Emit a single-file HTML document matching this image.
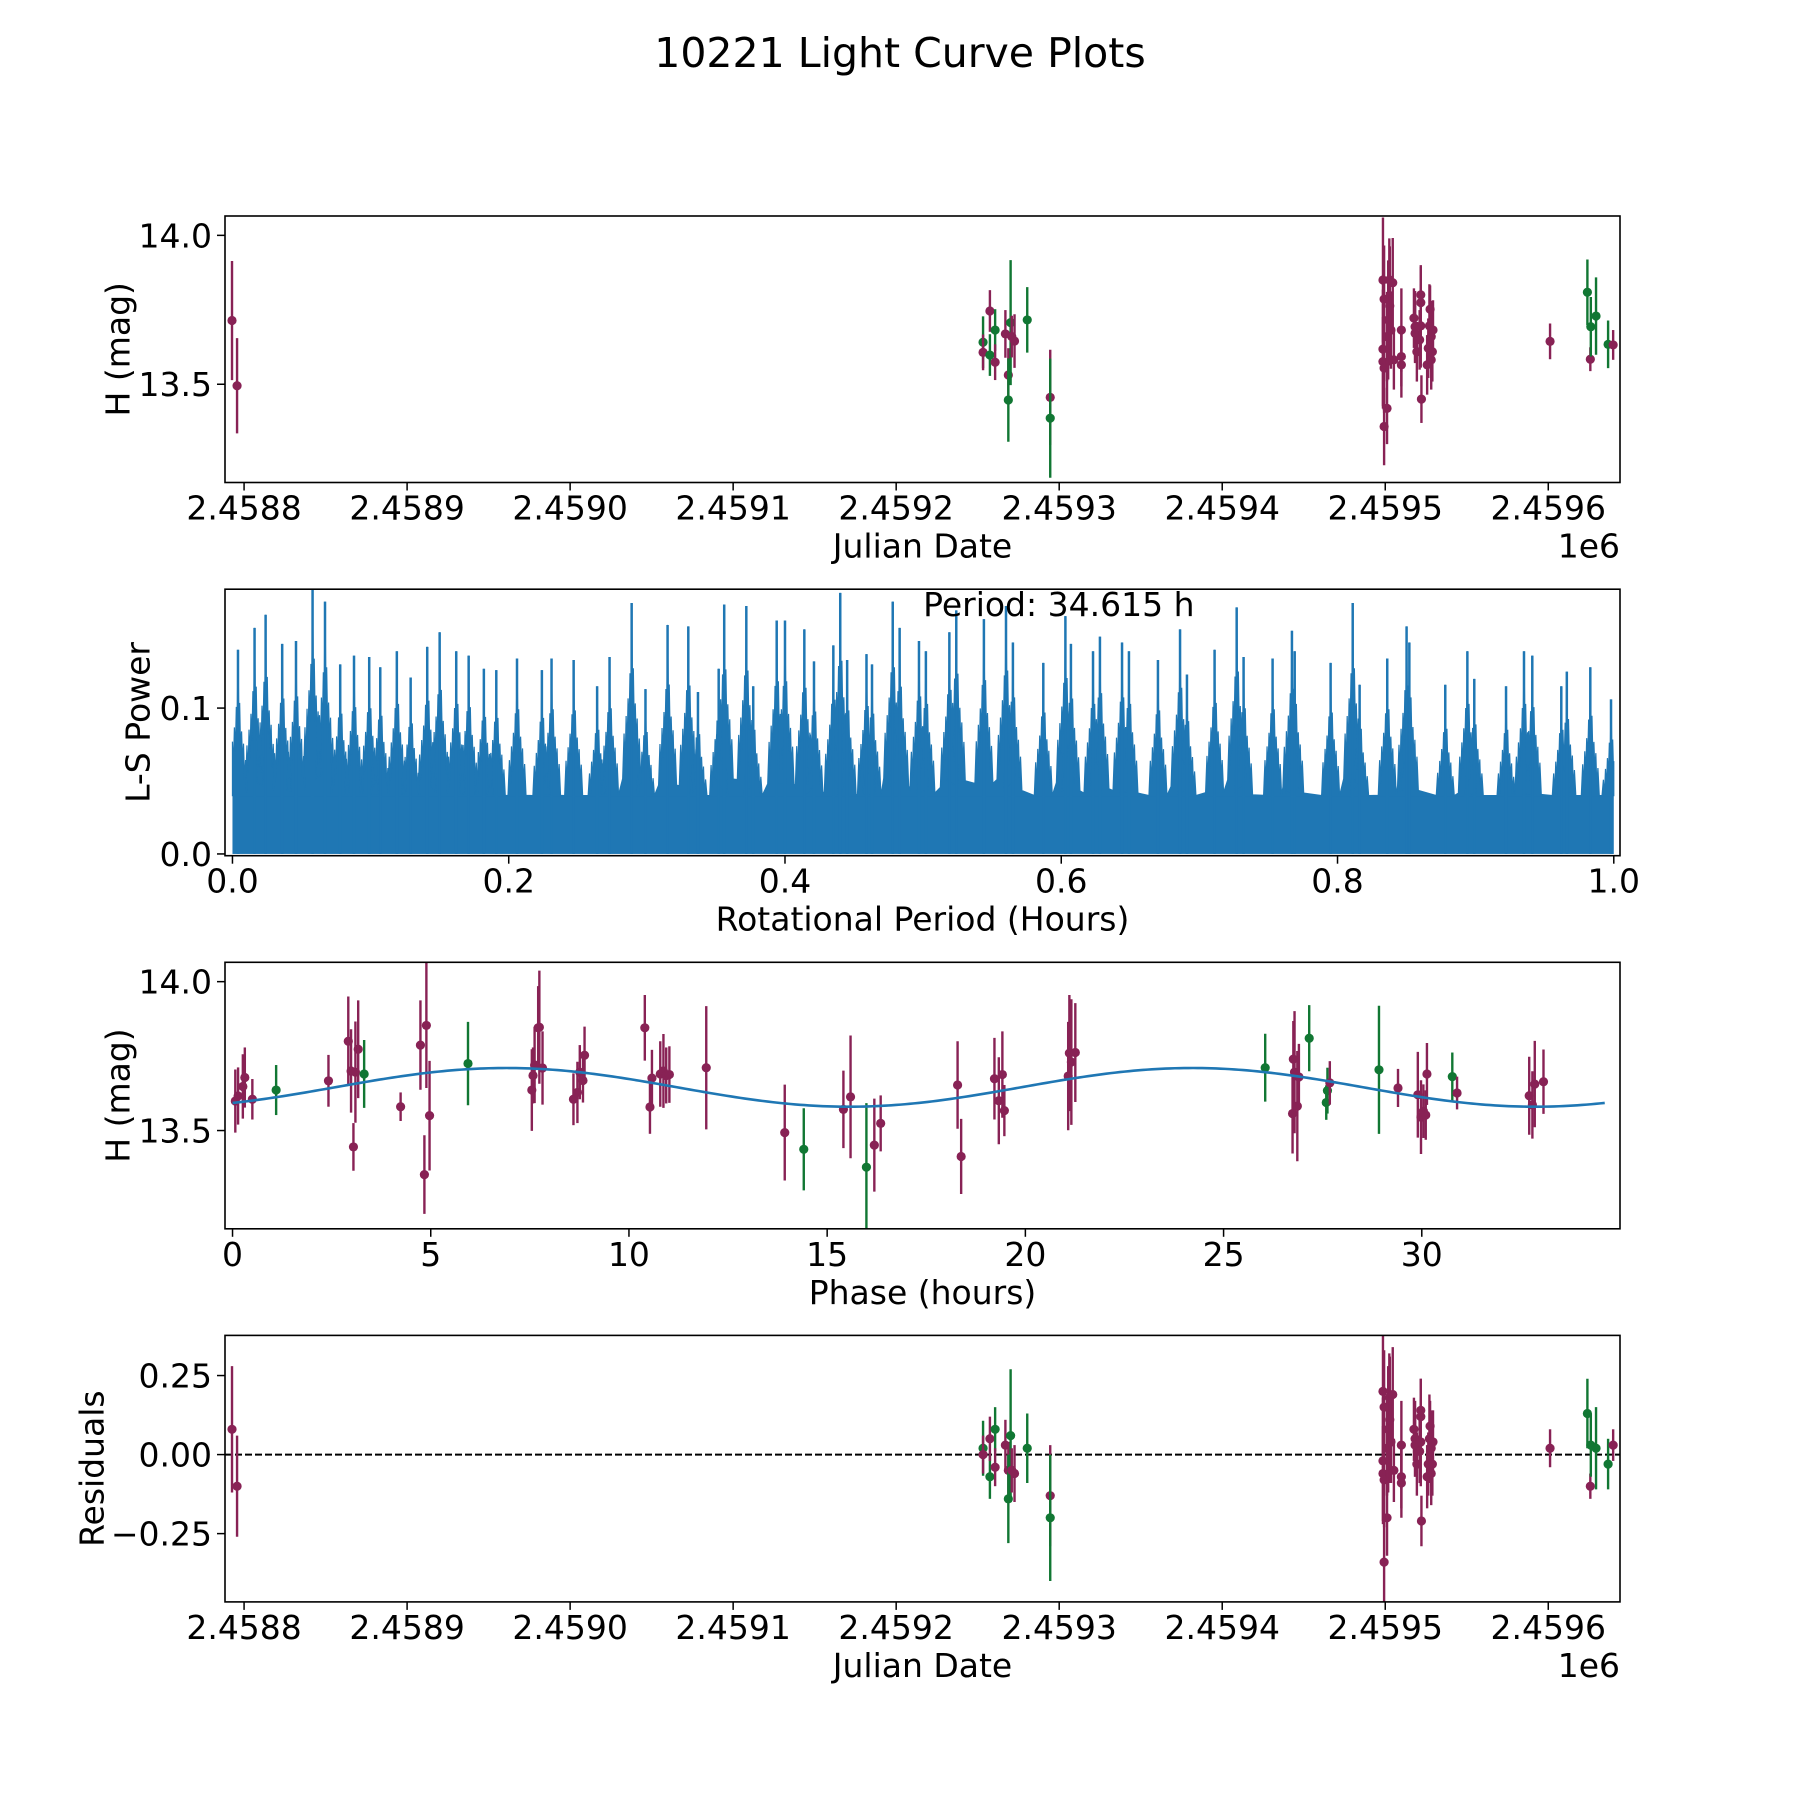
<!DOCTYPE html>
<html><head><meta charset="utf-8"><style>
html,body{margin:0;padding:0;background:#fff;}
svg{display:block;font-family:"DejaVu Sans","Liberation Sans",sans-serif;}
</style></head><body>
<svg id="fig" width="1800" height="1800" viewBox="0 0 1800 1800" xmlns="http://www.w3.org/2000/svg">
<rect width="1800" height="1800" fill="#fff"/>
<text x="900" y="67" font-size="41" text-anchor="middle">10221 Light Curve Plots</text>
</svg>
<script>
// ---------- data ----------
const lcJD = [2458792.6,2458795.7,2459253.3,2459253.3,2459257.5,2459257.5,2459260.7,2459260.7,2459267,2459268.8,2459268.8,2459270.2,2459270.9,2459272.6,2459280.4,2459294.5,2459294.5,
2459498.6,2459499.3,2459498.6,2459498.6,2459499.3,2459499.3,2459501.1,2459501.1,2459501.8,2459502.5,2459502.8,2459503.5,2459504.6,2459505.3,2459509.9,2459509.9,2459509.9,2459517.6,2459518.3,2459518.3,2459519.4,2459521.1,2459521.8,2459521.8,2459521.8,2459522.2,2459525.7,2459526.4,2459527.1,2459527.5,2459528.2,2459528.2,2459528.9,2459529.3,
2459601.1,2459624,2459625.8,2459626.1,2459629.3,2459636.7,2459639.8];
const lcMag = [13.714,13.495,13.641,13.607,13.598,13.746,13.682,13.574,13.669,13.531,13.447,13.707,13.660,13.645,13.716,13.456,13.386,
13.850,13.786,13.618,13.576,13.554,13.358,13.419,13.660,13.716,13.850,13.763,13.682,13.841,13.582,13.682,13.565,13.593,13.722,13.693,13.671,13.609,13.649,13.800,13.774,13.696,13.450,13.565,13.621,13.696,13.752,13.582,13.660,13.609,13.682,
13.644,13.809,13.584,13.693,13.729,13.634,13.632];
const lcErr = [0.20,0.16,0.087,0.06,0.07,0.07,0.07,0.06,0.08,0.09,0.14,0.21,0.07,0.09,0.11,0.16,0.20,
0.21,0.18,0.20,0.15,0.15,0.13,0.12,0.15,0.20,0.14,0.20,0.13,0.15,0.10,0.14,0.11,0.10,0.10,0.12,0.10,0.10,0.10,0.10,0.12,0.14,0.08,0.10,0.10,0.14,0.08,0.10,0.12,0.10,0.10,
0.06,0.11,0.04,0.10,0.13,0.08,0.05];
const lcBand = ['m','m','g','m','g','m','g','m','m','m','g','g','m','m','g','m','g',
'm','m','m','m','m','m','m','m','m','m','m','m','m','m','m','m','m','m','m','m','m','m','m','m','m','m','m','m','m','m','m','m','m','m',
'm','g','m','g','g','g','m'];
const resid = [0.08,-0.10,0.02,0.0,-0.07,0.05,0.08,-0.04,0.03,-0.05,-0.14,0.06,-0.05,-0.06,0.02,-0.13,-0.20,
0.20,0.15,-0.02,-0.06,-0.08,-0.34,-0.20,0.02,0.08,0.18,0.11,0.04,0.19,-0.05,0.03,-0.09,-0.07,0.08,0.05,0.03,-0.03,0.01,0.14,0.12,0.04,-0.21,-0.07,-0.03,0.05,0.09,-0.06,0.02,-0.03,0.04,
0.02,0.13,-0.10,0.03,0.02,-0.03,0.03];

const phX = [0.07,0.14,0.26,0.31,0.50,1.10,2.42,2.92,2.99,3.05,3.10,3.17,3.32,4.24,4.74,4.84,4.89,4.97,5.94,7.55,7.58,7.62,7.71,7.74,7.82,8.6,8.7,8.76,8.84,8.88,10.4,10.53,10.58,10.79,10.87,10.94,11.02,11.95,13.93,14.41,15.41,15.59,15.99,16.19,16.35,
18.29,18.38,19.22,19.33,19.42,19.47,21.08,21.11,21.16,21.26,26.05,26.74,26.76,26.79,26.86,26.90,27.16,27.59,27.62,27.68,28.92,29.40,29.90,29.98,30.04,30.10,30.13,30.77,30.89,32.71,32.79,32.85,33.07];
const phMag = [13.599,13.616,13.648,13.678,13.605,13.636,13.667,13.80,13.70,13.445,13.696,13.773,13.69,13.58,13.787,13.352,13.853,13.55,13.725,13.636,13.685,13.72,13.845,13.847,13.71,13.605,13.628,13.696,13.668,13.753,13.845,13.579,13.676,13.69,13.70,13.685,13.688,13.711,13.493,13.437,13.571,13.613,13.377,13.451,13.524,
13.653,13.413,13.674,13.60,13.688,13.567,13.683,13.76,13.73,13.762,13.711,13.557,13.74,13.696,13.582,13.68,13.81,13.594,13.634,13.66,13.704,13.643,13.62,13.545,13.565,13.552,13.69,13.681,13.626,13.617,13.586,13.656,13.664];
const phErr = [0.106,0.096,0.108,0.101,0.068,0.084,0.087,0.15,0.14,0.08,0.17,0.164,0.114,0.048,0.150,0.132,0.21,0.184,0.14,0.137,0.094,0.128,0.14,0.19,0.123,0.087,0.103,0.091,0.074,0.096,0.11,0.09,0.095,0.11,0.124,0.094,0.095,0.207,0.161,0.138,0.13,0.206,0.215,0.156,0.094,
0.147,0.126,0.137,0.146,0.145,0.086,0.182,0.195,0.211,0.166,0.114,0.134,0.128,0.205,0.185,0.111,0.111,0.058,0.077,0.073,0.215,0.064,0.144,0.124,0.090,0.083,0.104,0.081,0.055,0.131,0.113,0.145,0.108];
const phBand = ['m','m','m','m','m','g','m','m','m','m','m','m','g','m','m','m','m','m','g','m','m','m','m','m','m','m','m','m','m','m','m','m','m','m','m','m','m','m','m','g','m','m','g','m','m',
'm','m','m','m','m','m','m','m','m','m','g','m','m','m','m','m','g','g','g','m','g','m','m','m','m','m','m','g','m','m','m','m','m'];
// fitted model parameters
const fitMean = 13.645, fitAmp = 0.065, fitPeriodHalf = 17.3075, fitPeak = 6.9, fitEnd = 34.615;

const lsFreq = [0.004,0.016,0.024,0.036,0.046,0.058,0.067,0.078,0.088,0.099,0.107,0.119,0.129,0.141,0.150,0.162,0.171,0.182,0.191,0.206,0.224,0.231,0.247,0.264,0.273,0.289,0.299,0.315,0.330,0.337,0.352,0.356,0.372,0.377,0.394,0.400,0.414,0.421,0.435,0.440,0.445,0.459,0.463,0.478,0.483,0.497,
0.502,0.519,0.524,0.544,0.560,0.565,0.587,0.603,0.607,0.623,0.628,0.644,0.649,0.670,0.686,0.691,0.711,0.727,0.732,0.753,0.767,0.769,0.795,0.811,0.816,0.836,0.850,0.852,0.878,0.894,0.899,0.922,0.935,0.941,0.962,0.966,0.983,0.998];
const lsPower = [0.14,0.155,0.164,0.144,0.146,0.181,0.173,0.13,0.136,0.135,0.128,0.139,0.121,0.142,0.152,0.139,0.136,0.127,0.126,0.134,0.126,0.134,0.133,0.115,0.135,0.172,0.113,0.157,0.156,0.111,0.127,0.171,0.17,0.115,0.16,0.16,0.154,0.132,0.143,0.179,0.133,0.137,0.13,0.173,0.155,0.146,
0.139,0.152,0.167,0.161,0.17,0.145,0.131,0.163,0.144,0.139,0.149,0.145,0.139,0.133,0.154,0.123,0.14,0.169,0.135,0.134,0.153,0.139,0.131,0.172,0.116,0.134,0.156,0.145,0.116,0.139,0.12,0.115,0.139,0.136,0.115,0.125,0.128,0.106];

const jdTicks = [2458800,2458900,2459000,2459100,2459200,2459300,2459400,2459500,2459600];
const jdTickLabels = ['2.4588','2.4589','2.4590','2.4591','2.4592','2.4593','2.4594','2.4595','2.4596'];
const magTicks = [13.5,14.0], magTickLabels = ['13.5','14.0'];
const lsXTicks = [0,0.2,0.4,0.6,0.8,1.0], lsXTickLabels = ['0.0','0.2','0.4','0.6','0.8','1.0'];
const lsYTicks = [0,0.1], lsYTickLabels = ['0.0','0.1'];
const phTicks = [0,5,10,15,20,25,30], phTickLabels = ['0','5','10','15','20','25','30'];
const resTicks = [-0.25,0,0.25], resTickLabels = ['\u22120.25','0.00','0.25'];

// ---------- drawing ----------
const NS='http://www.w3.org/2000/svg';
const svg=document.getElementById('fig');
const COL={m:'#882255',g:'#117733'};
function mk(tag,attrs,parent){const e=document.createElementNS(NS,tag);for(const k in attrs)e.setAttribute(k,attrs[k]);(parent||svg).appendChild(e);return e;}
const L=225,R=1620,H=266.5;
const tops=[216,589.2,962.3,1335.4];
function scale(d0,d1,r0,r1){return v=>r0+(v-d0)/(d1-d0)*(r1-r0);}

function axes(idx,xd,yd,xt,xtl,yt,ytl,xlabel,ylabel,ylabX,offText){
  const top=tops[idx],bot=top+H;
  const sx=scale(xd[0],xd[1],L,R), sy=scale(yd[0],yd[1],bot,top);
  const g=mk('g',{});
  
  
  const clip=mk('clipPath',{id:'clip'+idx},svg);
  mk('rect',{x:L,y:top,width:R-L,height:H},clip);
  const plot=mk('g',{'clip-path':'url(#clip'+idx+')'},g);
  
  
  const frame=()=>{
    const f=mk('rect',{x:L,y:top,width:R-L,height:H,fill:'none',stroke:'#000','stroke-width':1.6},g);
    
    
    xt.forEach((v,i)=>{const x=sx(v);
      mk('line',{x1:x,x2:x,y1:bot,y2:bot+8,stroke:'#000','stroke-width':1.5},g);
      const t=mk('text',{x:x,y:bot+37,'font-size':33,'text-anchor':'middle'},g);t.textContent=xtl[i];
      
      });
    yt.forEach((v,i)=>{const y=sy(v);
      mk('line',{x1:L-8,x2:L,y1:y,y2:y,stroke:'#000','stroke-width':1.5},g);
      const t=mk('text',{x:L-13,y:y+12,'font-size':33,'text-anchor':'end'},g);t.textContent=ytl[i];
      
      });
    const xl=mk('text',{x:(L+R)/2,y:bot+75,'font-size':33,'text-anchor':'middle'},g);xl.textContent=xlabel;
    
    
    const cy=top+H/2;
    const yl=mk('text',{x:ylabX,y:cy,'font-size':33,'text-anchor':'middle',transform:'rotate(-90 '+ylabX+' '+cy+')','dominant-baseline':'central'},g);yl.textContent=ylabel;
    
    
    if(offText){const o=mk('text',{x:R,y:bot+75,'font-size':33,'text-anchor':'end'},g);o.textContent=offText;
      
      }
  };
  return {sx,sy,plot,frame};
}
function errpts(ax,xs,ys,es,bands){
  xs.forEach((xv,i)=>{const x=ax.sx(xv),y=ax.sy(ys[i]);const c=COL[bands[i]];
    const gg=mk('g',{},ax.plot);
    
    
    mk('line',{x1:x,x2:x,y1:ax.sy(ys[i]+es[i]),y2:ax.sy(ys[i]-es[i]),stroke:c,'stroke-width':2.4},gg);
    mk('circle',{cx:x,cy:y,r:4.6,fill:c},gg);});
}
const jdDom=[2458788.3,2459644];
const magDom=[13.17,14.065];

// Panel 1
const a1=axes(0,jdDom,magDom,jdTicks,jdTickLabels,magTicks,magTickLabels,'Julian Date','H (mag)',118,'1e6');
errpts(a1,lcJD,lcMag,lcErr,lcBand);a1.frame();

// Panel 2 periodogram
const a2=axes(1,[-0.0054,1.0045],[-0.0012,0.1815],lsXTicks,lsXTickLabels,lsYTicks,lsYTickLabels,'Rotational Period (Hours)','L-S Power',138);
{const base=0.04;
 const x0=0, x1=1.0;
 const clampX=v=>Math.max(x0,Math.min(x1,v));
 const floor=mk('rect',{x:a2.sx(x0),y:a2.sy(base),width:a2.sx(x1)-a2.sx(x0),height:a2.sy(0)-a2.sy(base),fill:'#1f77b4'},a2.plot);
 
 
 // sub-spike shape (offset, fraction of peak) — styling only
 const shapeOff=[-0.0065,-0.0055,-0.0047,-0.004,-0.0033,-0.0026,-0.0019,-0.0012,-0.0006,0,0.0006,0.0012,0.0019,0.0026,0.0033,0.004,0.0047,0.0055,0.0065];
 const shapeFr =[0.30,0.48,0.36,0.55,0.42,0.62,0.5,0.72,0.6,1,0.64,0.74,0.5,0.6,0.44,0.54,0.36,0.46,0.30];
 let d='M'+a2.sx(x0)+','+a2.sy(base);
 lsFreq.forEach((f,i)=>{const p=lsPower[i];
   shapeOff.forEach((o,k)=>{d+=' L'+a2.sx(clampX(f+o))+','+a2.sy(Math.max(base,p*shapeFr[k]));});});
 d+=' L'+a2.sx(x1)+','+a2.sy(base)+' Z';
 const pg=mk('path',{d:d,fill:'#1f77b4',stroke:'#1f77b4','stroke-width':1.2,'stroke-linejoin':'miter'},a2.plot);
 
 
 lsFreq.forEach((f,i)=>{const sp=mk('line',{x1:a2.sx(f),x2:a2.sx(f),y1:a2.sy(0),y2:a2.sy(lsPower[i]),stroke:'#1f77b4','stroke-width':2.5},a2.plot);
   
   });
}
a2.frame();
{const t=mk('text',{x:a2.sx(0.5),y:616,'font-size':33},svg);t.textContent='Period: 34.615 h';
 
 }

// Panel 3 phase
const a3=axes(2,[-0.19,35.0],magDom,phTicks,phTickLabels,magTicks,magTickLabels,'Phase (hours)','H (mag)',118);
errpts(a3,phX,phMag,phErr,phBand);
{let d='';const n=300;for(let i=0;i<=n;i++){const x=fitEnd*i/n;const y=fitMean+fitAmp*Math.cos(2*Math.PI*(x-fitPeak)/fitPeriodHalf);d+=(i?' L':'M')+a3.sx(x)+','+a3.sy(y);}
 const c=mk('path',{d:d,fill:'none',stroke:'#1f77b4','stroke-width':2.6},a3.plot);
 
 }
a3.frame();

// Panel 4 residuals
const a4=axes(3,jdDom,[-0.466,0.377],jdTicks,jdTickLabels,resTicks,resTickLabels,'Julian Date','Residuals',92,'1e6');
{const z=mk('line',{x1:L,x2:R,y1:a4.sy(0),y2:a4.sy(0),stroke:'#000','stroke-width':2,'stroke-dasharray':'7,3'},a4.plot);
 
 }
errpts(a4,lcJD,resid,lcErr,lcBand);a4.frame();
</script>
</body></html>
